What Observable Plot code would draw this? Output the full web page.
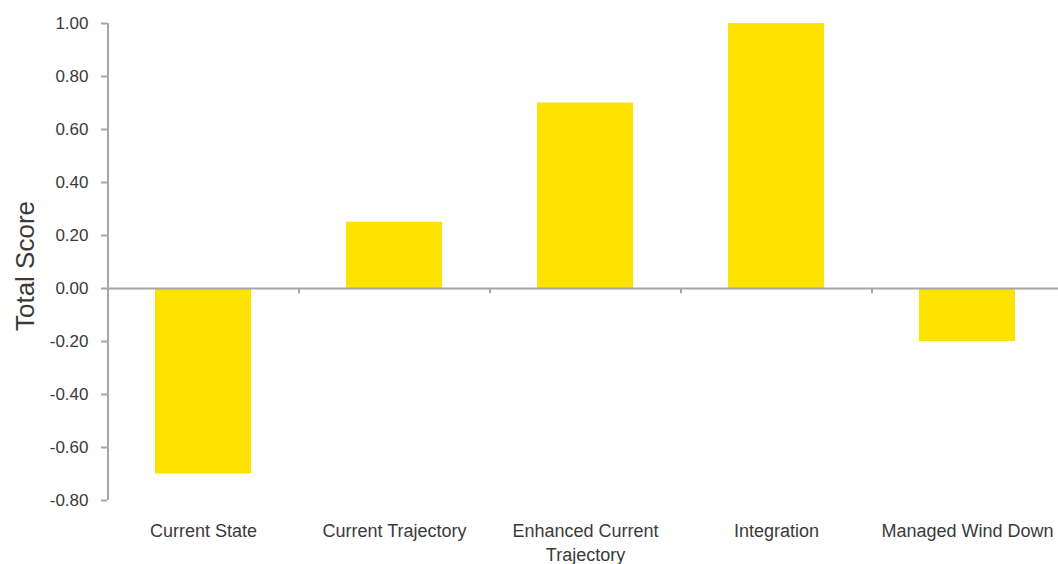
<!DOCTYPE html>
<html>
<head>
<meta charset="utf-8">
<script src="https://cdn.jsdelivr.net/npm/d3@7"></script>
<script src="https://cdn.jsdelivr.net/npm/@observablehq/plot@0.6"></script>
<style>
  html, body { margin: 0; padding: 0; background: #fff; }
  #chart svg { display: block; }
</style>
</head>
<body>
<div id="chart"></div>
<script>
const categories = ["Current State", "Current Trajectory", "Enhanced Current Trajectory", "Integration", "Managed Wind Down"];
const categoryLabels = ["Current State", "Current Trajectory", "Enhanced Current\nTrajectory", "Integration", "Managed Wind Down"];
const scores = [-0.70, 0.25, 0.70, 1.00, -0.20];
const yTicks = [-0.8, -0.6, -0.4, -0.2, 0, 0.2, 0.4, 0.6, 0.8, 1.0];
const yLabel = "Total Score";

const data = categories.map((c, i) => ({category: c, score: scores[i]}));
const labelOf = new Map(categories.map((c, i) => [c, categoryLabels[i]]));

const W = 1058, H = 564, mL = 107, mR = -4, mT = 23, mB = 64;
const halfBand = (W - mL - mR) / categories.length / 2;
const axisColor = "#a6a6a6";
const textColor = "#3a3a3a";

const chart = Plot.plot({
  width: W,
  height: H,
  marginLeft: mL,
  marginRight: mR,
  marginTop: mT,
  marginBottom: mB,
  style: {fontFamily: "'Liberation Sans', Arial, sans-serif", color: textColor, background: "#fff", overflow: "visible"},
  x: {domain: categories, paddingInner: 0.5, paddingOuter: 0.25, align: 0.5},
  y: {domain: [-0.8, 1.0]},
  marks: [
    Plot.barY(data, {x: "category", y: "score", fill: "#ffe300"}),
    Plot.ruleY([0], {stroke: axisColor, strokeWidth: 2}),
    Plot.ruleX(categories.slice(1), {x: d => d, dx: -halfBand, y1: 0, y2: -0.02, stroke: axisColor, strokeWidth: 2}),
    Plot.ruleX([categories[0]], {x: d => d, dx: -halfBand, y1: -0.8, y2: 1.0, stroke: axisColor, strokeWidth: 2}),
    Plot.axisY({ticks: yTicks, tickFormat: d => d.toFixed(2), tickSize: 6, tickPadding: 13, fontSize: 17, stroke: axisColor, strokeWidth: 2, label: null}),
    Plot.axisX({tickSize: 0, tickPadding: 20, fontSize: 18, tickFormat: d => labelOf.get(d), label: null, lineHeight: 1.3}),
    Plot.text([yLabel], {frameAnchor: "left", textAnchor: "middle", rotate: -90, dx: -82, dy: 4, fontSize: 26, fill: textColor})
  ]
});
document.getElementById("chart").appendChild(chart);
</script>
</body>
</html>
